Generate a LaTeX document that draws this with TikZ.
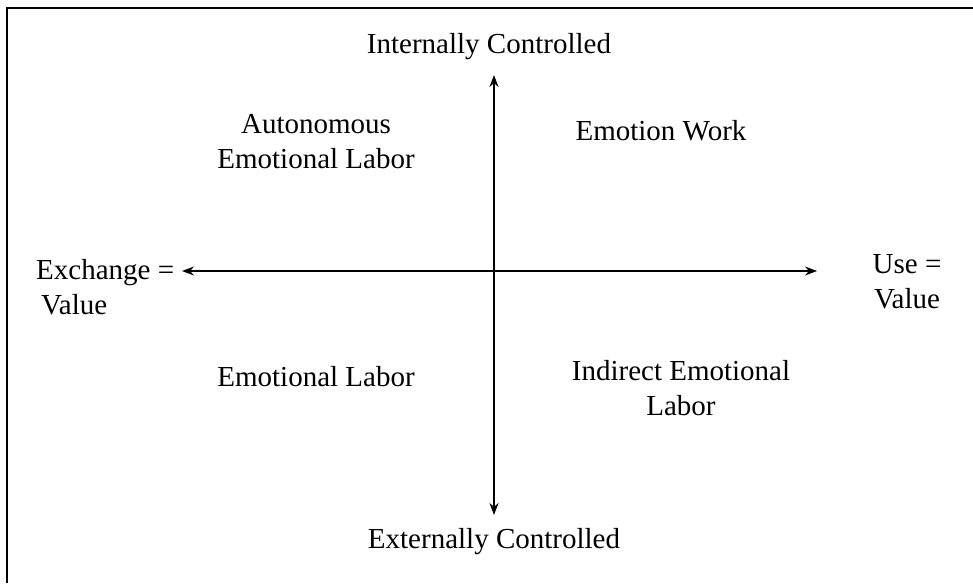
\documentclass[tikz,border=0pt]{standalone}
\usepackage{fontspec}
\setmainfont{Liberation Serif}
\usetikzlibrary{arrows.meta}
\begin{document}
\begin{tikzpicture}[x=1pt,y=-1pt,
  lbl/.style={font=\fontsize{29}{35}\selectfont, align=center, inner sep=0pt},
  frame/.style={line width=2.2pt},
  axis/.style={line width=1.4pt, {Stealth[length=12pt,width=9pt]}-{Stealth[length=12pt,width=9pt]}}]
\useasboundingbox (0,0) rectangle (973,583);
\draw[frame] (7,583) -- (7,8) -- (973,8);
\coordinate (top) at (494,75);
\coordinate (bot) at (494,515);
\coordinate (lft) at (182,271);
\coordinate (rgt) at (817,271);
\draw[axis] (top) -- (bot);
\draw[axis] (lft) -- (rgt);
\node[lbl] (ic) at (489,47) {Internally Controlled};
\node[lbl] (ec) at (494,542) {Externally Controlled};
\node[lbl] (ael) at (316,142) {Autonomous\\Emotional Labor};
\node[lbl] (ew) at (661,131) {Emotion Work};
\node[lbl] (el) at (316,377) {Emotional Labor};
\node[lbl] (iel) at (681,388) {Indirect Emotional\\Labor};
\node[lbl, align=left, anchor=west] (ex) at (36,287) {Exchange =\\\hspace{5pt}Value};
\node[lbl] (use) at (907,282) {Use =\\Value};
\end{tikzpicture}
\end{document}
